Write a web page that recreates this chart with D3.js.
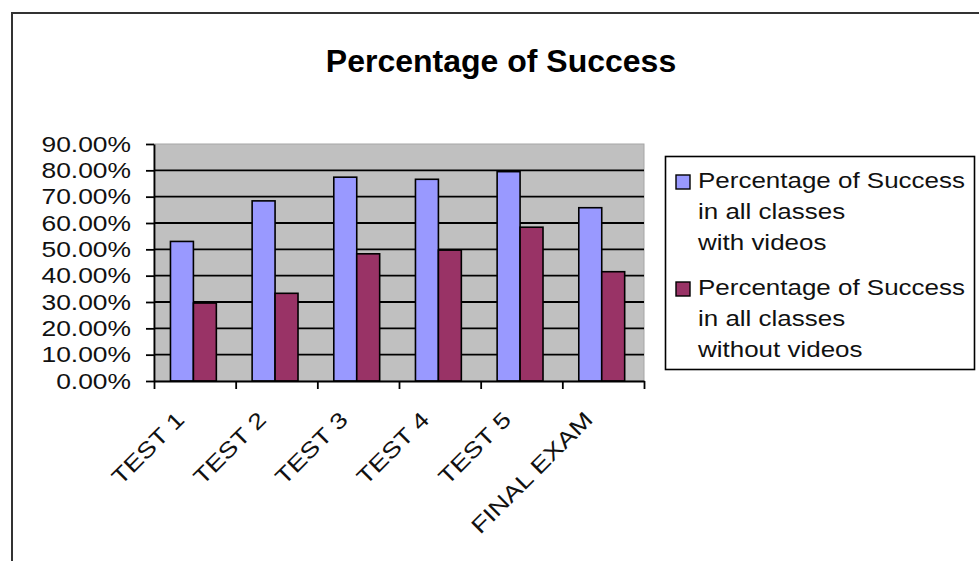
<!DOCTYPE html>
<html>
<head>
<meta charset="utf-8">
<script src="https://cdn.jsdelivr.net/npm/d3@7"></script>
<style>
  body { margin: 0; background: #fff; }
  svg { display: block; font-family: "Liberation Sans", Arial, sans-serif; }
</style>
</head>
<body>
<svg id="chart" width="979" height="561"></svg>
<script>
const categories = ["TEST 1", "TEST 2", "TEST 3", "TEST 4", "TEST 5", "FINAL EXAM"];
const withVideos = [0.530, 0.684, 0.774, 0.766, 0.795, 0.658];
const withoutVideos = [0.296, 0.333, 0.483, 0.497, 0.584, 0.415];
const yTicks = [0, 0.1, 0.2, 0.3, 0.4, 0.5, 0.6, 0.7, 0.8, 0.9];
const seriesNames = [
  ["Percentage of Success", "in all classes", "with videos"],
  ["Percentage of Success", "in all classes", "without videos"]
];
const seriesColors = ["#9999ff", "#993366"];

const STRETCH = 1.2;
const svg = d3.select("#chart");

// the source uses a wide bitmap-like font, so widen the glyphs a bit
function stretchText(sel, k) {
  sel.each(function() {
    let w = this.getComputedTextLength();
    d3.select(this)
      .attr("textLength", w * k)
      .attr("lengthAdjust", "spacingAndGlyphs");
  });
}

// Chart area border (runs off the right and bottom edges)
svg.append("path")
  .attr("d", "M12,561V13H979")
  .attr("fill", "none")
  .attr("stroke", "#333")
  .attr("stroke-width", 2);

// Title
svg.append("text")
  .attr("x", 501)
  .attr("y", 72)
  .attr("text-anchor", "middle")
  .attr("font-weight", "bold")
  .attr("font-size", 32)
  .text("Percentage of Success");

const plot = { left: 154, right: 644, top: 144, bottom: 381 };

const y = d3.scaleLinear()
  .domain([0, 0.9])
  .range([plot.bottom, plot.top]);

const x0 = d3.scaleBand()
  .domain(categories)
  .range([plot.left, plot.right]);

const x1 = d3.scaleBand()
  .domain([0, 1])
  .range([0, x0.bandwidth()])
  .paddingOuter(0.78)
  .align(0.46);

const xEdge = d3.scaleLinear()
  .domain([0, categories.length])
  .range([plot.left, plot.right]);

// Plot area
svg.append("rect")
  .attr("x", plot.left)
  .attr("y", plot.top)
  .attr("width", plot.right - plot.left)
  .attr("height", plot.bottom - plot.top)
  .attr("fill", "#c0c0c0")
  .attr("stroke", "#a6a6a6");

// Gridlines
svg.append("g")
  .selectAll("line")
  .data(yTicks.filter(d => d > 0 && d < 0.9))
  .join("line")
  .attr("x1", plot.left)
  .attr("x2", plot.right)
  .attr("y1", d => y(d))
  .attr("y2", d => y(d))
  .attr("stroke", "#000")
  .attr("stroke-width", 1.8);

// Bars
let barData = [];
categories.forEach((c, i) => {
  barData.push({ c: c, s: 0, v: withVideos[i] });
  barData.push({ c: c, s: 1, v: withoutVideos[i] });
});

svg.append("g")
  .selectAll("rect")
  .data(barData)
  .join("rect")
  .attr("x", d => x0(d.c) + x1(d.s))
  .attr("y", d => y(d.v))
  .attr("width", x1.bandwidth())
  .attr("height", d => y(0) - y(d.v))
  .attr("fill", d => seriesColors[d.s])
  .attr("stroke", "#000")
  .attr("stroke-width", 1.6);

// Y axis
let yAxis = svg.append("g")
  .attr("transform", "translate(" + plot.left + ",0)")
  .call(d3.axisLeft(y)
    .tickValues(yTicks)
    .tickFormat(d3.format(".2%"))
    .tickSize(8)
    .tickSizeOuter(0)
    .tickPadding(15));

yAxis.select(".domain").attr("stroke", "#000").attr("stroke-width", 1.8);
yAxis.selectAll(".tick line").attr("stroke", "#000").attr("stroke-width", 1.8);
yAxis.selectAll(".tick text")
  .attr("font-family", null)
  .attr("font-size", 22)
  .attr("fill", "#111")
  .call(stretchText, STRETCH);

// X axis (ticks between categories)
let xAxis = svg.append("g")
  .attr("transform", "translate(0," + plot.bottom + ")")
  .call(d3.axisBottom(xEdge)
    .tickValues(d3.range(categories.length + 1))
    .tickFormat("")
    .tickSize(8)
    .tickSizeOuter(0));

xAxis.select(".domain").attr("stroke", "#000").attr("stroke-width", 1.8);
xAxis.selectAll(".tick line").attr("stroke", "#000").attr("stroke-width", 1.8);

// Rotated category labels
svg.append("g")
  .selectAll("text")
  .data(categories)
  .join("text")
  .attr("transform", d => "translate(" + (x0(d) + x0.bandwidth() / 2 - 9) + ",421) rotate(-45)")
  .attr("text-anchor", "end")
  .attr("font-size", 22)
  .attr("fill", "#111")
  .text(d => d)
  .call(stretchText, 1.24);

// Legend
let legend = svg.append("g");

legend.append("rect")
  .attr("x", 665.5)
  .attr("y", 156.5)
  .attr("width", 309)
  .attr("height", 213)
  .attr("fill", "#fff")
  .attr("stroke", "#000")
  .attr("stroke-width", 1.6);

let items = legend.selectAll("g.item")
  .data(seriesNames)
  .join("g")
  .attr("class", "item")
  .attr("transform", (d, i) => "translate(676," + (175 + i * 107) + ")");

items.append("rect")
  .attr("width", 14)
  .attr("height", 14)
  .attr("fill", (d, i) => seriesColors[i])
  .attr("stroke", "#000")
  .attr("stroke-width", 1.4);

items.selectAll("text")
  .data(d => d)
  .join("text")
  .attr("x", 22)
  .attr("y", (d, j) => 13 + j * 31)
  .attr("font-size", 22)
  .attr("fill", "#111")
  .text(d => d)
  .call(stretchText, 1.18);
</script>
</body>
</html>
